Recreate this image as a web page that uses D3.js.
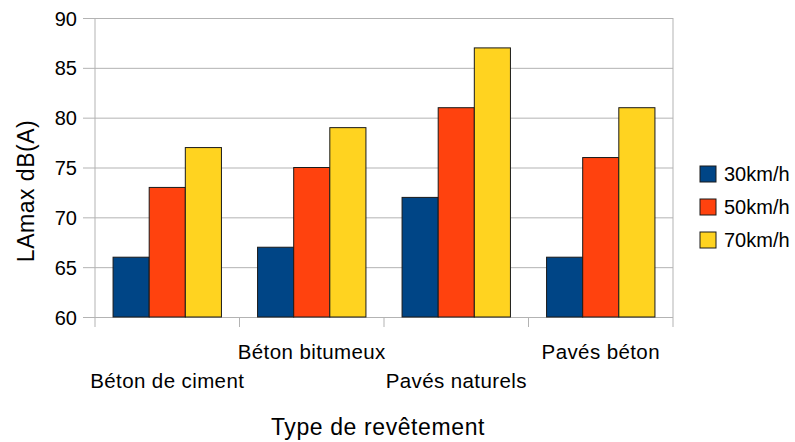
<!DOCTYPE html>
<html>
<head>
<meta charset="utf-8">
<script src="https://cdn.jsdelivr.net/npm/d3@7"></script>
<style>
  body { margin: 0; background: #fff; }
  text { font-family: "Liberation Sans", Arial, sans-serif; fill: #000; }
</style>
</head>
<body>
<div id="container"></div>
<script>
let categories = ["Béton de ciment", "Béton bitumeux", "Pavés naturels", "Pavés béton"];
let seriesNames = ["30km/h", "50km/h", "70km/h"];
let v30 = [66, 67, 72, 66];
let v50 = [73, 75, 81, 76];
let v70 = [77, 79, 87, 81];
let yTicks = [60, 65, 70, 75, 80, 85, 90];
let colors = ["#004586", "#ff420e", "#ffd320"];

let w = 795;
let h = 442;
let padL = 95, padR = 673, padT = 18, padB = 317;

let viz = d3.select("#container")
  .append("svg")
    .attr("width", w)
    .attr("height", h);

let allSeries = [v30, v50, v70];
let data = categories.map(function(c, i){
  return seriesNames.map(function(s, j){
    return {cat: c, series: s, value: allSeries[j][i], color: colors[j]};
  });
});

let xScale = d3.scaleBand().domain(categories).range([padL, padR]);
let bw = xScale.bandwidth();
let xInner = d3.scaleBand().domain(seriesNames).range([bw * 0.125, bw * 0.875]);
let yScale = d3.scaleLinear().domain([60, 90]).range([padB, padT]);

// horizontal grid
let yAxis = d3.axisLeft(yScale)
  .tickValues(yTicks)
  .tickSize(-(padR - padL) - 12)
  .tickPadding(6)
  .tickSizeOuter(0);
let yAxisGroup = viz.append("g")
  .attr("transform", "translate(" + (padL - 12) + ",0)")
  .call(yAxis);
yAxisGroup.select(".domain").remove();
yAxisGroup.selectAll("line").attr("stroke", "#b3b3b3");
yAxisGroup.selectAll("text")
  .style("font-size", "20px")
  .attr("dy", "0.35em")
  .attr("x", -6);

// vertical lines left and right
viz.selectAll(".vline").data([padL, padR]).enter()
  .append("line")
    .attr("x1", function(d){ return d; })
    .attr("x2", function(d){ return d; })
    .attr("y1", padT)
    .attr("y2", padB)
    .attr("stroke", "#b3b3b3");

// category ticks
let bounds = categories.map(function(c){ return xScale(c); }).concat([padR]);
viz.selectAll(".ctick").data(bounds).enter()
  .append("line")
    .attr("x1", function(d){ return d; })
    .attr("x2", function(d){ return d; })
    .attr("y1", padB)
    .attr("y2", padB + 10)
    .attr("stroke", "#b3b3b3");

// bars
let groups = viz.selectAll(".grp").data(data).enter()
  .append("g")
    .attr("transform", function(d){ return "translate(" + xScale(d[0].cat) + ",0)"; });
groups.selectAll("rect").data(function(d){ return d; }).enter()
  .append("rect")
    .attr("x", function(d){ return xInner(d.series); })
    .attr("width", xInner.bandwidth())
    .attr("y", function(d){ return yScale(d.value); })
    .attr("height", function(d){ return padB - yScale(d.value); })
    .attr("fill", function(d){ return d.color; })
    .attr("stroke", "#1a1a1a")
    .attr("stroke-width", 1);

// category labels, staggered
viz.selectAll(".clabel").data(categories).enter()
  .append("text")
    .attr("x", function(d){ return xScale(d) + bw / 2; })
    .attr("y", function(d, i){ return i % 2 == 0 ? 388 : 359; })
    .attr("text-anchor", "middle")
    .style("font-size", "20.5px")
    .style("letter-spacing", "0.4px")
    .text(function(d){ return d; });

// axis titles
viz.append("text")
  .attr("x", 378)
  .attr("y", 435)
  .attr("text-anchor", "middle")
  .style("font-size", "23px")
  .style("letter-spacing", "0.6px")
  .text("Type de revêtement");

viz.append("text")
  .attr("transform", "translate(34,191) rotate(-90)")
  .attr("text-anchor", "middle")
  .style("font-size", "23px")
  .style("letter-spacing", "0.5px")
  .text("LAmax dB(A)");

// legend
let legend = viz.selectAll(".leg").data(seriesNames).enter()
  .append("g")
    .attr("transform", function(d, i){ return "translate(700," + (166 + i * 33) + ")"; });
legend.append("rect")
  .attr("width", 16)
  .attr("height", 16)
  .attr("fill", function(d, i){ return colors[i]; })
  .attr("stroke", "#1a1a1a");
legend.append("text")
  .attr("x", 24)
  .attr("y", 8)
  .attr("dy", "0.35em")
  .style("font-size", "20px")
  .text(function(d){ return d; });
</script>
</body>
</html>
